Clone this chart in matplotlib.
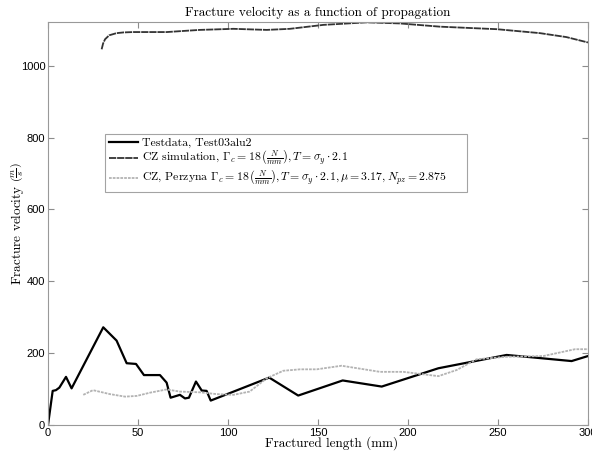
import matplotlib
matplotlib.use("Agg")
import matplotlib.pyplot as plt

plt.rcParams['mathtext.fontset'] = 'cm'
plt.rcParams['font.family'] = ['cmr10', 'DejaVu Serif']
plt.rcParams['axes.unicode_minus'] = False

# test data (black line)
test_x = [0, 2.6, 4.4, 6.3, 10, 13.1, 30.7, 38.1, 43.7, 48.9, 53.3, 62.2, 65.9,
          68.1, 73.3, 76.1, 78.3, 82.2, 85.4, 88.1, 90.4, 122.9, 139, 163.7,
          185.4, 216.9, 254.8, 290.9, 300]
test_y = [0, 95, 97, 104, 134, 102, 272, 235, 172, 170, 139, 139, 118,
          76, 84, 74, 76, 121, 96, 95, 68, 132, 82, 124,
          107, 158, 195, 178, 192]

# CZ simulation (top curve)
cz_x = [29.8, 30.6, 31.7, 34, 38.1, 42, 47.4, 56, 66, 75, 84.4, 103, 121.5,
        134.4, 153, 177, 195.6, 217.8, 249.3, 273.3, 288, 300]
cz_y = [1046, 1062, 1074, 1085, 1091, 1093, 1094, 1094, 1094, 1097, 1100, 1103,
        1100, 1103, 1114, 1121, 1118, 1109, 1102, 1091, 1080, 1065]

# CZ Perzyna (light gray)
pz_x = [19.6, 25, 34.4, 42.8, 49.3, 56.7, 65.9, 73.3, 84.4, 93.7, 103, 112,
        121.5, 130.7, 140, 149.3, 163.1, 184.4, 197.4, 216.9, 227, 238.1,
        254.8, 275.2, 292.8, 300]
pz_y = [84, 97, 86, 79, 81, 90, 99, 93, 91, 86, 84, 93,
        130, 151, 155, 155, 165, 148, 148, 136, 153, 183,
        190, 192, 211, 211]

fig = plt.figure(figsize=(5.92, 4.53), dpi=100)
ax = fig.add_axes([48/592, 1-425/453, 540/592, 403/453])

ax.plot(test_x, test_y, color='black', lw=1.6,
        label='Testdata, Test03alu2')
ax.plot(cz_x, cz_y, color='0.2', lw=1.3, ls=(0, (4, 0.5)),
        label=r'CZ simulation, $\Gamma_c = 18\,\left(\frac{N}{mm}\right), T = \sigma_y \cdot 2.1$')
ax.plot(pz_x, pz_y, color='0.7', lw=1.3, ls=(0, (1.5, 0.6)),
        label=r'CZ, Perzyna $\Gamma_c = 18\,\left(\frac{N}{mm}\right), T = \sigma_y \cdot 2.1, \mu = 3.17, N_{pz} = 2.875$')

ax.set_xlim(0, 300)
ax.set_ylim(0, 1122)
ax.set_xticks(range(0, 301, 50))
ax.set_yticks(range(0, 1001, 200))
ax.tick_params(direction='in', top=True, right=True, length=4, color='0.55',
               labelsize=8, pad=2)
for lab in ax.get_xticklabels() + ax.get_yticklabels():
    lab.set_fontfamily('Liberation Sans')
for s in ax.spines.values():
    s.set_color('0.6')

ax.set_title('Fracture velocity as a function of propagation', fontsize=9.5, pad=4)
ax.set_xlabel('Fractured length (mm)', fontsize=9.5)
ax.set_ylabel(r'Fracture velocity $\left(\frac{m}{s}\right)$', fontsize=9.5)
ax.xaxis.set_label_coords(0.525, -0.029)
ax.yaxis.set_label_coords(-0.04, 0.5)

leg = ax.legend(loc='upper left', bbox_to_anchor=(0.106, 0.578, 0.67, 0.144),
                mode='expand', fontsize=8.5,
                frameon=True, fancybox=False, edgecolor='0.55', handlelength=2.5,
                handletextpad=0.3, borderpad=0.3, labelspacing=0.05,
                borderaxespad=0)
leg.get_frame().set_linewidth(0.8)

fig.savefig('out.png', dpi=100)
